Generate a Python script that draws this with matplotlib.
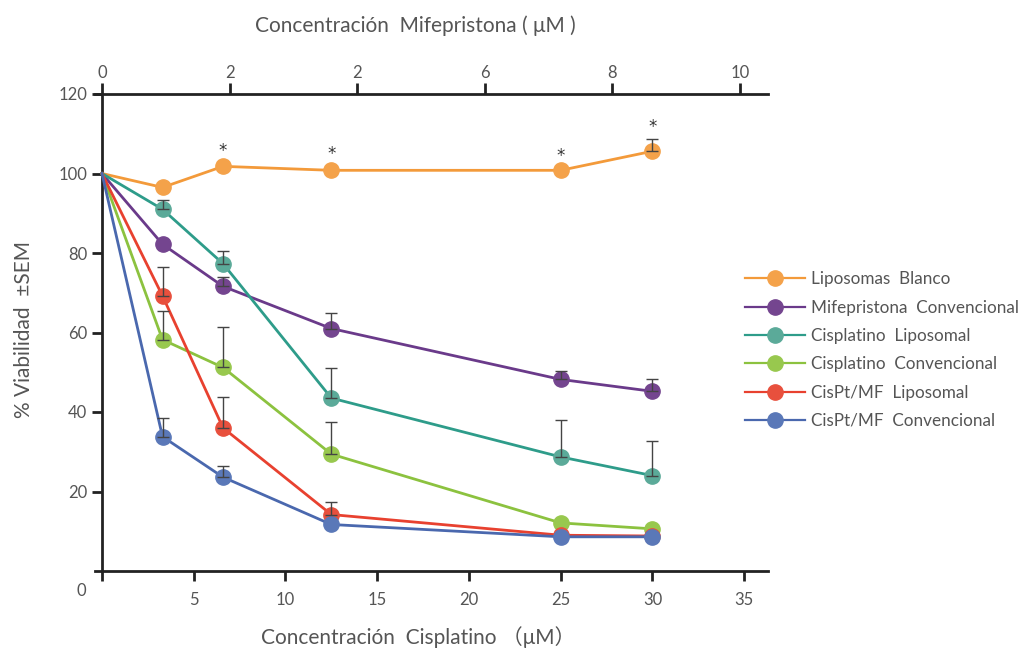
import numpy as np
import matplotlib.pyplot as plt

plt.rcParams['font.family'] = ['Lato', 'DejaVu Sans']

# concentraciones de cisplatino (uM) y eje superior de mifepristona
cis_conc = [0, 3.3, 6.6, 12.5, 25, 30]
mif_ticks = [0, 2, 4, 6, 8, 10]
mif_labels = ['0', '2', '2', '6', '8', '10']

series = ['Liposomas  Blanco', 'Mifepristona  Convencional', 'Cisplatino  Liposomal',
          'Cisplatino  Convencional', 'CisPt/MF  Liposomal', 'CisPt/MF  Convencional']
colors = ['#F39A3A', '#6A3A8A', '#2E9C8A', '#8CC23F', '#E8412F', '#4A68AE']
markers_c = ['#F4A24A', '#74458F', '#5BAA99', '#98C84E', '#E8503D', '#5A78B8']

viab = [
    [100, 96.5, 101.8, 100.8, 100.8, 105.6],
    [100, 82.2, 71.6, 61.0, 48.2, 45.2],
    [100, 91.0, 77.3, 43.5, 28.7, 24.0],
    [100, 58.2, 51.2, 29.4, 12.1, 10.6],
    [100, 69.2, 36.0, 14.2, 9.0, 8.8],
    [100, 33.8, 23.6, 11.7, 8.6, 8.6],
]
# SEM (solo barra superior)
sem = [
    [0, 0, 0, 0, 0, 3.2],
    [0, 0, 2.3, 3.8, 2.2, 3.0],
    [0, 2.3, 3.1, 7.6, 9.2, 8.8],
    [0, 7.2, 10.2, 8.0, 0, 0],
    [0, 7.2, 7.7, 3.2, 0, 0],
    [0, 4.7, 2.8, 0, 0, 0],
]
star_x = [6.6, 12.5, 25, 30]
star_y = [105.6, 104.9, 104.4, 111.6]

fig = plt.figure(figsize=(10.23, 6.49), dpi=100)
ax = fig.add_axes([95 / 1023, 1 - 571 / 649, (768 - 95) / 1023, (571 - 94) / 649])

for i in range(len(series)):
    ax.plot(cis_conc, viab[i], color=colors[i], lw=2, marker='o', ms=11,
            markevery=list(range(1, len(cis_conc))),
            mfc=markers_c[i], mec=markers_c[i], label=series[i], zorder=3 + i * 0.1)
    err = np.array(sem[i])
    mask = err > 0
    ax.errorbar(np.array(cis_conc)[mask], np.array(viab[i])[mask],
                yerr=[np.zeros(mask.sum()), err[mask]], fmt='none',
                ecolor='#444444', elinewidth=1, capsize=4, capthick=1, zorder=5)

for x, y in zip(star_x, star_y):
    ax.text(x, y, '*', ha='center', va='center', fontsize=12, color='#333333',
            family='DejaVu Sans')

ax.set_xlim(-0.38, 36.3)
ax.set_ylim(0, 120)
ax.spines['left'].set_position(('data', 0))
ax.spines['right'].set_visible(False)
ax.spines['top'].set_visible(False)
for s in ['left', 'bottom']:
    ax.spines[s].set_linewidth(2)
    ax.spines[s].set_color('#222222')

ax.set_xticks([0, 5, 10, 15, 20, 25, 30, 35])
ax.set_xticklabels(['', '5', '10', '15', '20', '25', '30', '35'])
ax.set_yticks([20, 40, 60, 80, 100, 120])
ax.tick_params(axis='both', colors='#222222', width=2, length=7, labelsize=12,
               labelcolor='#555555', direction='out')
ax.tick_params(axis='x', pad=8)
ax.text(-1.1, -5, '0', ha='center', va='center', fontsize=12, color='#555555')

# eje superior: mifepristona
ax2 = ax.twiny()
ax2.set_xlim(-7 / 63.8, 673 / 63.8 - 7 / 63.8)
ax2.set_xticks(mif_ticks)
ax2.set_xticklabels(mif_labels)
for s in ['left', 'right', 'bottom']:
    ax2.spines[s].set_visible(False)
ax2.spines['top'].set_linewidth(2)
ax2.spines['top'].set_color('#222222')
ax2.tick_params(axis='x', colors='#222222', width=2, length=8, labelsize=12,
                labelcolor='#555555', pad=1)

fig.text(415 / 1023, 1 - 26 / 649, 'Concentración  Mifepristona ( μM )',
         ha='center', va='center', fontsize=15, color='#555555')
fig.text(418 / 1023, 1 - 637 / 649, 'Concentración  Cisplatino （μM）',
         ha='center', va='center', fontsize=15, color='#555555',
         family=['Lato', 'Noto Sans CJK SC', 'DejaVu Sans'])
fig.text(24 / 1023, 1 - 330 / 649, '% Viabilidad  ±SEM', rotation=90,
         ha='center', va='center', fontsize=15, color='#555555')

leg = ax.legend(loc='upper left', bbox_to_anchor=(730 / 1023, 1 - 256 / 649),
                bbox_transform=fig.transFigure, frameon=False, fontsize=12.3,
                handlelength=3.5, labelspacing=0.72, handletextpad=0.35)
for t in leg.get_texts():
    t.set_color('#555555')
for h in leg.legend_handles:
    h.set_linewidth(1.6)

fig.savefig('out.png', dpi=100)
